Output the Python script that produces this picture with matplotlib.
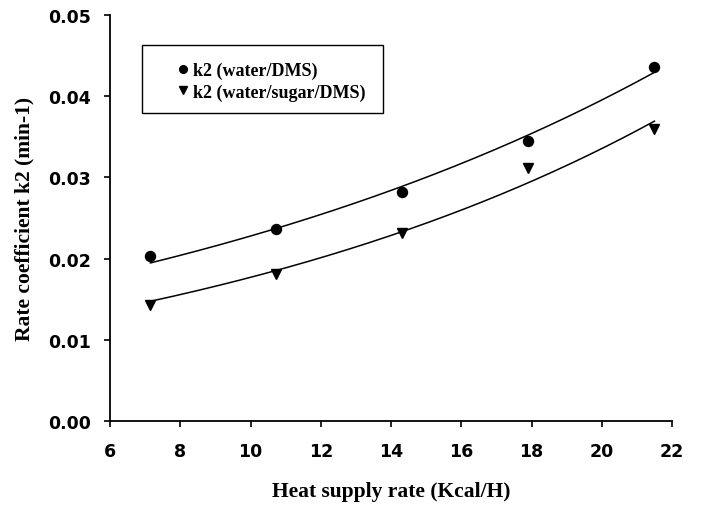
import numpy as np
import matplotlib
matplotlib.use("Agg")
import matplotlib.pyplot as plt
from matplotlib.lines import Line2D
from matplotlib.patches import Rectangle

heat_rate = [7.15, 10.73, 14.3, 17.9, 21.5]
k2_water_dms = [0.0203, 0.0237, 0.0282, 0.0345, 0.0436]
k2_water_sugar_dms = [0.0143, 0.0181, 0.0232, 0.0312, 0.0359]

series_labels = ["k2 (water/DMS)", "k2 (water/sugar/DMS)"]
x_ticks = [6, 8, 10, 12, 14, 16, 18, 20, 22]
y_ticks = [0.00, 0.01, 0.02, 0.03, 0.04, 0.05]


def exp_fit(x, y):
    x = np.asarray(x, float)
    y = np.asarray(y, float)
    # weighted log-linear start, then Gauss-Newton for y = a*exp(b*x)
    b, lna = np.polyfit(x, np.log(y), 1, w=y)
    a = np.exp(lna)
    for _ in range(50):
        f = a * np.exp(b * x)
        J = np.column_stack([np.exp(b * x), a * x * np.exp(b * x)])
        d, *_ = np.linalg.lstsq(J, y - f, rcond=None)
        a += d[0]
        b += d[1]
    xs = np.linspace(x.min(), x.max(), 200)
    return xs, a * np.exp(b * xs)


fig = plt.figure(figsize=(7.01, 5.06), dpi=100)
ax = fig.add_axes([110 / 701, 84 / 506, 562 / 701, 406 / 506])

for y, marker in [(k2_water_dms, "o"), (k2_water_sugar_dms, "v")]:
    xs, ys = exp_fit(heat_rate, y)
    ax.plot(xs, ys, color="black", lw=1.1)
    ax.plot(heat_rate, y, linestyle="none", marker=marker, color="black",
            markersize=7.2)

ax.set_xlim(6, 22)
ax.set_ylim(0, 0.05)
ax.set_xticks(x_ticks)
ax.set_yticks(y_ticks)
tick_font = dict(fontfamily="DejaVu Sans", fontweight="bold", fontsize=12.5)
ax.set_xticklabels([str(t) for t in x_ticks], **tick_font)
ax.set_yticklabels([f"{t:.2f}" for t in y_ticks], **tick_font)
ax.tick_params(direction="out", length=4.5, width=1.2, color="black")
ax.tick_params(axis="x", pad=10.5)
ax.tick_params(axis="y", pad=9)
for s in ["top", "right"]:
    ax.spines[s].set_visible(False)
for s in ["left", "bottom"]:
    ax.spines[s].set_linewidth(1.3)

label_font = dict(fontfamily="Liberation Serif", fontweight="bold", fontsize=15.5)
ax.set_xlabel("Heat supply rate (Kcal/H)", labelpad=15.5, **label_font)
ax.set_ylabel("Rate coefficient k2 (min-1)", labelpad=10, **label_font)

# legend box
ax.add_patch(Rectangle((32 / 562, (422 - 114) / 406), 241 / 562, 68 / 406,
                       transform=ax.transAxes, fill=False, edgecolor="black",
                       linewidth=1.0, zorder=3))
handles = [Line2D([], [], linestyle="none", marker="o", color="black", markersize=5.5),
           Line2D([], [], linestyle="none", marker="v", color="black", markersize=6)]
leg = ax.legend(handles, series_labels, loc="upper left",
                bbox_to_anchor=((176.7 - 110) / 562, (422 - 63) / 406),
                prop={"family": "Liberation Serif", "weight": "bold", "size": 13},
                frameon=False, borderpad=0, handletextpad=0.2, labelspacing=0.22,
                handlelength=0.7, borderaxespad=0)

fig.savefig("out.png", dpi=100)
